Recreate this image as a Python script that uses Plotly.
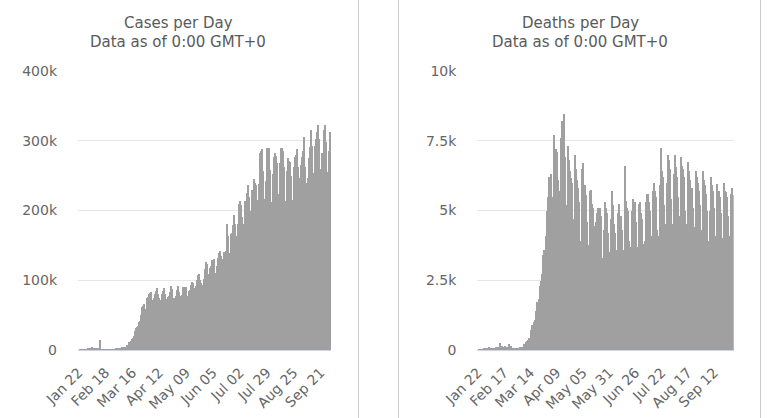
import pandas as pd
import plotly.graph_objects as go

start_date = "2020-01-22"

cases = [
    # Jan 22-31
    0, 98, 288, 493, 684, 809, 1000, 588, 1200, 1300,
    # Feb
    1500, 2800, 3100, 3200, 3700, 3200, 3500, 2700, 3000, 2600,
    2000, 600, 14000, 900, 700, 600, 600, 500, 450, 500,
    600, 700, 400, 600, 800, 900, 1100, 1300, 1700,
    # Mar
    1900, 1800, 2300, 2200, 2700, 3900, 4000, 3800, 4000, 4500,
    7200, 7500, 10800, 10900, 13600, 15500, 16500, 20000, 27000, 32000,
    32500, 34000, 40500, 41500, 49500, 62000, 62500, 66000, 59500, 58700, 74000,
    # Apr
    76500, 80000, 82000, 83000, 72000, 69000, 74000, 80000, 84500, 89000,
    80000, 74500, 67000, 71000, 81000, 85000, 89000, 80000, 73000, 72000,
    75500, 78000, 83000, 92000, 88000, 74000, 71000, 74000, 77000, 86000,
    # May
    92000, 83000, 77000, 73000, 79000, 91000, 90000, 91000, 91000, 77000,
    74000, 84000, 86000, 93000, 97000, 96000, 82000, 89000, 92000, 100000,
    107000, 109000, 101000, 96000, 90000, 93000, 102000, 116000, 126000, 124000, 109000,
    # Jun
    103000, 117000, 120000, 129000, 129000, 131000, 110000, 104000, 120000, 132000,
    139000, 142000, 135000, 131000, 121000, 141000, 139000, 142000, 181000, 163000,
    139000, 138000, 167000, 168000, 179000, 193000, 180000, 163000, 160000, 180000,
    # Jul
    209000, 213000, 208000, 190000, 180000, 173000, 213000, 209000, 225000, 237000,
    220000, 189000, 199000, 230000, 219000, 245000, 240000, 236000, 209000, 215000,
    238000, 283000, 286000, 288000, 256000, 217000, 206000, 243000, 289000, 289000, 290000,
    # Aug
    258000, 210000, 212000, 253000, 277000, 282000, 278000, 268000, 215000, 223000,
    268000, 289000, 289000, 285000, 262000, 213000, 214000, 256000, 275000, 271000,
    270000, 250000, 213000, 215000, 263000, 277000, 280000, 288000, 262000, 218000, 246000,
    # Sep
    265000, 277000, 285000, 305000, 262000, 240000, 218000, 246000, 275000, 291000,
    316000, 293000, 254000, 244000, 293000, 303000, 312000, 323000, 302000, 249000,
    260000, 283000, 283000, 315000, 322000, 298000, 255000, 236000, 286000, 313000,
    # Oct 1
    312000,
]

deaths = [
    # Jan 22-31
    0, 1, 8, 16, 14, 26, 49, 2, 38, 42,
    # Feb
    46, 103, 64, 66, 72, 70, 85, 87, 100, 107,
    100, 5, 253, 152, 143, 104, 98, 139, 115, 125,
    4, 207, 11, 160, 81, 62, 44, 58, 71,
    # Mar
    71, 68, 77, 94, 94, 103, 101, 231, 201, 278,
    328, 350, 437, 371, 717, 881, 728, 1018, 1074, 1384,
    1706, 1641, 1828, 2282, 2457, 2728, 3400, 3600, 3300, 4100, 5000,
    # Apr
    5500, 6200, 6100, 6300, 5000, 5500, 7700, 6500, 7200, 7100,
    6100, 5600, 5700, 7600, 8200, 7000, 8460, 6900, 5000, 5200,
    7300, 6800, 6400, 6150, 6000, 3900, 4700, 7000, 6500, 6100,
    # May
    5800, 5300, 3700, 3900, 6500, 6700, 5900, 5550, 4600, 3750,
    3600, 5700, 5750, 5250, 5100, 4450, 3200, 4600, 4900, 5100,
    5050, 5100, 4800, 3000, 3300, 4300, 5300, 5100, 4900, 4200, 3400,
    # Jun
    3500, 4700, 5700, 5200, 4500, 4200, 3400, 3600, 4900, 5250,
    4700, 4800, 4300, 3600, 3500, 6600, 5350, 5100, 5000, 3900,
    3700, 3600, 5000, 5400, 5300, 5300, 4600, 3700, 3600, 5250,
    # Jul
    5300, 4900, 4700, 3800, 3500, 3900, 5300, 5600, 5600, 5300,
    5000, 3900, 4100, 5700, 6000, 5700, 5500, 4300, 4100, 4000,
    5900, 7250, 6400, 6200, 5200, 4350, 4500, 6000, 7000, 6800, 6500,
    # Aug
    5400, 4500, 4500, 6300, 7000, 6550, 6200, 5500, 4800, 4700,
    6900, 6600, 6500, 6200, 5000, 4350, 4500, 6750, 6400, 6100,
    5800, 5100, 4300, 4400, 6400, 6200, 6000, 5700, 5200, 4300, 4200,
    # Sep
    6400, 6100, 5900, 5600, 5000, 3900, 3900, 5000, 6200, 5900,
    5700, 5100, 3900, 4100, 5950, 5400, 5700, 5500, 4900, 3760,
    4000, 6000, 5700, 5650, 5500, 4800, 3760, 4100, 5600, 5800,
    # Oct 1
    5570,
]

cases_ticks = [0, 100000, 200000, 300000, 400000]
cases_tick_text = ["0", "100k", "200k", "300k", "400k"]
deaths_ticks = [0, 2500, 5000, 7500, 10000]
deaths_tick_text = ["0", "2.5k", "5k", "7.5k", "10k"]

titles = ["Cases per Day", "Deaths per Day"]
subtitle = "Data as of 0:00 GMT+0"

dates = [d.strftime("%b %d") for d in pd.date_range(start_date, periods=len(cases))]
n = len(dates)

W, H = 768, 418
FONT = "DejaVu Sans"
BAR = "#a0a0a0"
LABEL = "#666666"

fig = go.Figure()
fig.add_trace(go.Bar(x=dates, y=cases, xaxis="x", yaxis="y",
                     marker=dict(color=BAR, line=dict(width=0))))
fig.add_trace(go.Bar(x=dates, y=deaths, xaxis="x2", yaxis="y2",
                     marker=dict(color=BAR, line=dict(width=0))))

ydom = [1 - 350 / H, 1 - 71 / H]
common_x = dict(type="category", tickangle=-45, showline=True, linecolor="#ccd6eb",
                linewidth=1, showgrid=False, ticks="", range=[-0.5, n - 0.5],
                automargin=False, ticklabelstandoff=8,
                tickfont=dict(family=FONT, size=14, color=LABEL), tickmode="array")
common_y = dict(domain=ydom, showgrid=True, gridcolor="#e6e6e6", zeroline=False,
                ticks="", ticklabelstandoff=20, automargin=False,
                tickfont=dict(family=FONT, size=14, color=LABEL), tickmode="array")

fig.update_layout(
    width=W, height=H, margin=dict(l=0, r=0, t=0, b=0, autoexpand=False),
    paper_bgcolor="white", plot_bgcolor="white", showlegend=False,
    bargap=0, font=dict(family=FONT),
    xaxis=dict(domain=[78 / W, 331 / W], anchor="y",
               tickvals=dates[::27], ticktext=dates[::27], **common_x),
    yaxis=dict(anchor="x", range=[0, 400000], tickvals=cases_ticks,
               ticktext=cases_tick_text, **common_y),
    xaxis2=dict(domain=[477.3 / W, 733.7 / W], anchor="y2",
                tickvals=dates[::26], ticktext=dates[::26], **common_x),
    yaxis2=dict(anchor="x2", range=[0, 10000], tickvals=deaths_ticks,
                ticktext=deaths_tick_text, **common_y),
)

for cx, t in [(178, titles[0]), (580, titles[1])]:
    fig.add_annotation(x=cx / W, y=1 - 23 / H, xref="paper", yref="paper", text=t,
                       showarrow=False, xanchor="center", yanchor="middle",
                       font=dict(family=FONT, size=15, color="#5a5a5a"))
    fig.add_annotation(x=cx / W, y=1 - 42 / H, xref="paper", yref="paper", text=subtitle,
                       showarrow=False, xanchor="center", yanchor="middle",
                       font=dict(family=FONT, size=15, color="#5a5a5a"))

for xp in [358.5, 398.5, 760.5]:
    fig.add_shape(type="line", xref="paper", yref="paper", x0=xp / W, x1=xp / W,
                  y0=0, y1=1, line=dict(color="#cccccc", width=1))

fig.write_html("out.html", config={"displayModeBar": False},
               post_script="document.body.style.margin='0px';")
